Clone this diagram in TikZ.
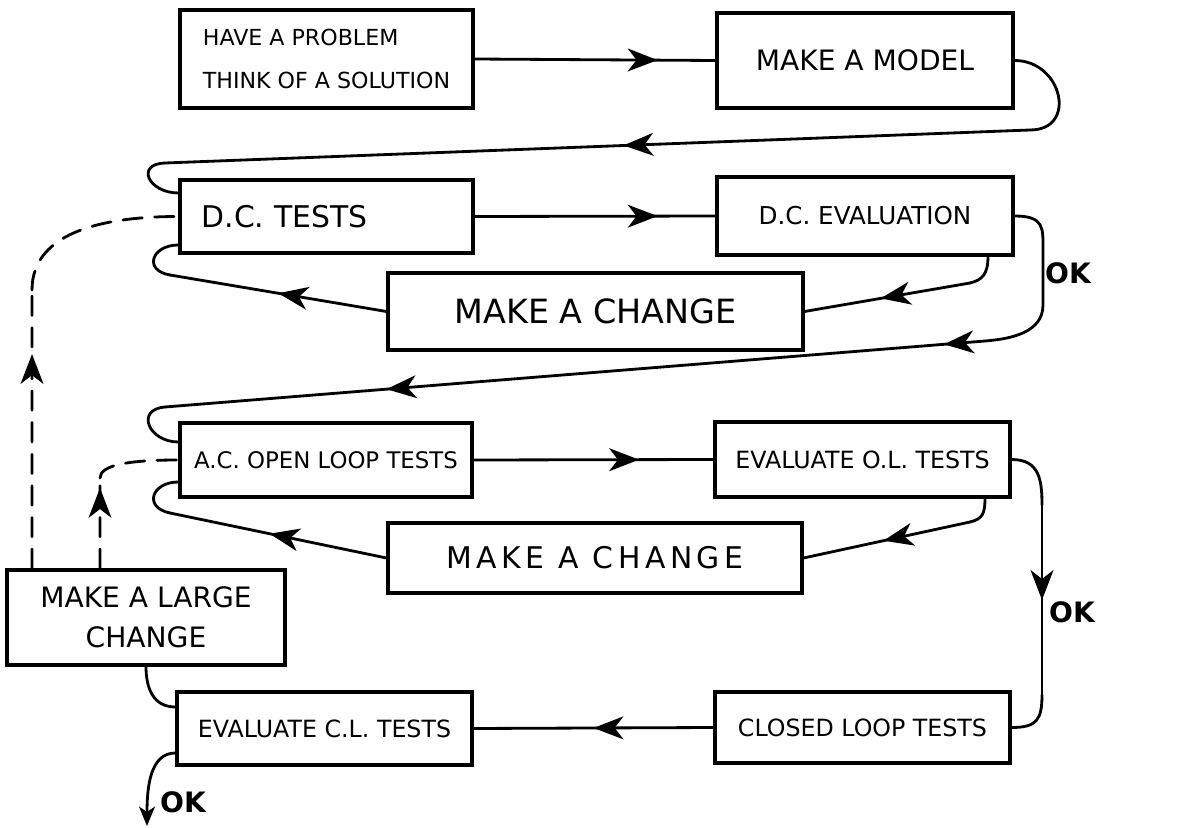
\documentclass[tikz,border=0pt]{standalone}
\usepackage{fontspec}
\setmainfont{DejaVu Sans}
\usetikzlibrary{arrows.meta, decorations.markings}

\begin{document}
\begin{tikzpicture}[
    x=0.02cm, y=-0.02cm,
    box/.style={rectangle, draw, line width=1.8pt, align=center, inner sep=0pt},
    conn/.style={line width=1.6pt, line cap=round},
    dashconn/.style={conn, dash pattern=on 11pt off 7pt},
    arrowat/.style={postaction={decorate, decoration={markings,
        mark=at position #1 with {\arrow{Stealth[length=17pt, width=13pt, inset=5pt]}}}}},
    arrow/.style={-{Stealth[length=11pt, width=9pt, inset=3pt]}},
    oklabel/.style={font=\fontsize{16}{18}\selectfont\bfseries}
]

\useasboundingbox (0,0) rectangle (1178,828);

%==============================================================================
% Boxes
%==============================================================================
\node[box, minimum width=5.86cm, minimum height=1.96cm, align=left,
      font=\fontsize{12.6}{24}\selectfont] (prob) at (326.5,59) {HAVE A PROBLEM\\THINK OF A SOLUTION};
\node[box, minimum width=5.92cm, minimum height=1.90cm, font=\fontsize{16}{18}\selectfont]
    (model) at (865,60.5) {MAKE A MODEL};

\node[box, minimum width=5.86cm, minimum height=1.46cm, text width=5.0cm, align=left,
      font=\fontsize{17}{19}\selectfont] (dctest) at (326.5,216.5) {D.C. TESTS};
\node[box, minimum width=5.92cm, minimum height=1.56cm, font=\fontsize{14}{16}\selectfont]
    (dceval) at (865,216) {D.C. EVALUATION};
\node[box, minimum width=8.30cm, minimum height=1.54cm, font=\fontsize{19}{21}\selectfont]
    (change1) at (595.5,311.5) {MAKE A CHANGE};

\node[box, minimum width=5.84cm, minimum height=1.48cm, font=\fontsize{13}{15}\selectfont]
    (actest) at (326,460) {A.C. OPEN LOOP TESTS};
\node[box, minimum width=5.90cm, minimum height=1.50cm, font=\fontsize{13.5}{15}\selectfont]
    (oleval) at (862.5,459.5) {EVALUATE O.L. TESTS};
\node[box, minimum width=8.28cm, minimum height=1.40cm,
      font=\fontsize{17}{19}\selectfont\addfontfeature{LetterSpace=15}]
    (change2) at (595,558) {MAKE A CHANGE};

\node[box, minimum width=5.56cm, minimum height=1.90cm, font=\fontsize{16}{23}\selectfont]
    (large) at (146,617.5) {MAKE A LARGE\\CHANGE};
\node[box, minimum width=5.90cm, minimum height=1.42cm, font=\fontsize{13.5}{15}\selectfont]
    (cltest) at (862.5,727.5) {CLOSED LOOP TESTS};
\node[box, minimum width=5.90cm, minimum height=1.46cm, font=\fontsize{13.5}{15}\selectfont]
    (cleval) at (324.5,728.5) {EVALUATE C.L. TESTS};

% OK labels
\node[oklabel] (ok1) at (1068,273) {OK};
\node[oklabel] (ok2) at (1072,612) {OK};
\node[oklabel] (ok3) at (183,802) {OK};

%==============================================================================
% Bend points
%==============================================================================
\coordinate (m1) at (1030,130);
\coordinate (m2) at (165,163);
\coordinate (d1) at (970,283);
\coordinate (c1) at (170,275);
\coordinate (o1) at (1043,250);
\coordinate (o2) at (1043,305);
\coordinate (o3) at (985,341);
\coordinate (o4) at (165,407);
\coordinate (p1) at (970,522);
\coordinate (c2) at (170,513);
\coordinate (q1) at (1042,505);
\coordinate (q2) at (1042,695);
\coordinate (exit) at (147,826);
\coordinate (u1) at (32,290);
\coordinate (u2) at (100,478);

%==============================================================================
% D.C. stage
%==============================================================================
\draw[conn, arrowat=0.76] (prob.east) -- (model.west);
\draw[conn] (model.east) .. controls +(48,0) and +(48,0) .. (m1);
\draw[conn, arrowat=0.47] (m1) -- (m2);
\draw[conn] (m2) .. controls +(-30,1) and +(-30,0) .. ([yshift=0.47cm]dctest.west);

\draw[conn, arrowat=0.76] (dctest.east) -- (dceval.west);
\draw[conn] ([xshift=2.46cm]dceval.south) .. controls +(0,18) and +(12,-3) .. (d1);
\draw[conn, arrowat=0.54] (d1) -- (change1.east);
\draw[conn, arrowat=0.50] (change1.west) -- (c1);
\draw[conn] (c1) .. controls +(-27,-4.5) and +(-27,0) .. ([yshift=-0.57cm]dctest.west);

% OK -> A.C. stage
\draw[conn] (dceval.east) .. controls +(30,0) and +(0,-22) .. (o1) -- (o2)
    .. controls +(0,28) and +(25,-2) .. (o3);
\draw[conn, arrowat=0.05, arrowat=0.73] (o3) -- (o4);
\draw[conn] (o4) .. controls +(-30,2.4) and +(-30,0) .. ([yshift=0.36cm]actest.west);

%==============================================================================
% A.C. open loop stage
%==============================================================================
\draw[conn, arrowat=0.69] (actest.east) -- (oleval.west);
\draw[conn] ([xshift=2.45cm]oleval.south) .. controls +(0,16) and +(12,-3) .. (p1);
\draw[conn, arrowat=0.52] (p1) -- (change2.east);
\draw[conn, arrowat=0.54] (change2.west) -- (c2);
\draw[conn] (c2) .. controls +(-27,-5.6) and +(-27,0) .. ([yshift=-0.44cm]actest.west);

% OK -> closed loop
\draw[conn] (oleval.east) .. controls +(28,0) and +(0,-25) .. (q1);
\draw[conn, arrowat=0.5] (q1) -- (q2);
\draw[conn] (q2) .. controls +(0,25) and +(25,0) .. (cltest.east);

%==============================================================================
% Closed loop stage
%==============================================================================
\draw[conn, arrowat=0.50] (cltest.west) -- (cleval.east);
\draw[conn] ([yshift=0.43cm]cleval.west) .. controls +(-22,0) and +(0,22) .. (large.south);
\draw[conn, arrow] ([yshift=-0.49cm]cleval.west) .. controls +(-25,0) and +(0,-40) .. (exit);

% large change feeds back (dashed)
\draw[dashconn, arrowat=0.77] ([xshift=-2.28cm]large.north) -- (u1);
\draw[dashconn] (u1) .. controls +(0,-60) and +(-70,0) .. (dctest.west);
\draw[dashconn, arrowat=0.89] ([xshift=-0.92cm]large.north) -- (u2);
\draw[dashconn] (u2) .. controls +(0,-14) and +(-45,0) .. (actest.west);

\end{tikzpicture}
\end{document}
